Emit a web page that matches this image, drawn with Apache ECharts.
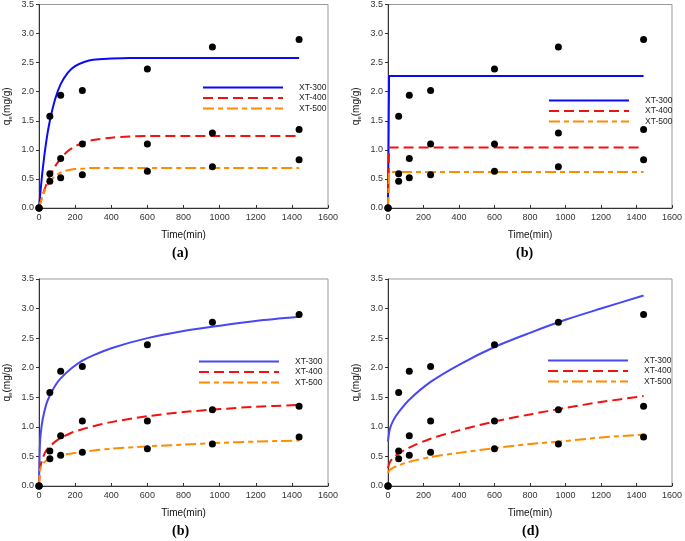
<!DOCTYPE html>
<html>
<head>
<meta charset="utf-8">
<script src="https://cdn.jsdelivr.net/npm/echarts@6/dist/echarts.min.js"></script>
<style>
  html, body { margin: 0; padding: 0; background: #fff; }
  #chart { width: 685px; height: 541px; }
</style>
</head>
<body>
<div id="chart"></div>
<script>
// measured points (same in every panel)
const timePts = [0, 60, 120, 240, 600, 960, 1440];
const q300 = [0, 1.58, 1.94, 2.02, 2.39, 2.77, 2.90];
const q400 = [0, 0.59, 0.85, 1.10, 1.10, 1.29, 1.35];
const q500 = [0, 0.46, 0.52, 0.57, 0.63, 0.71, 0.83];

const names = ["XT-300", "XT-400", "XT-500"];
// bottom row uses a lighter blue, so its legend needs its own series names
const namesLow = ["XT-300 ", "XT-400 ", "XT-500 "];

// fitted curves
const tA = [0, 20, 40, 60, 90, 120, 160, 200, 250, 300, 400, 500, 600, 800, 1000, 1200, 1440];
const aFit300 = [0, 0.65, 1.14, 1.50, 1.88, 2.13, 2.33, 2.44, 2.51, 2.55, 2.57, 2.58, 2.58, 2.58, 2.58, 2.58, 2.58];
const aFit400 = [0, 0.22, 0.40, 0.55, 0.72, 0.85, 0.98, 1.06, 1.13, 1.17, 1.21, 1.23, 1.24, 1.24, 1.24, 1.24, 1.24];
const aFit500 = [0, 0.21, 0.35, 0.46, 0.55, 0.61, 0.65, 0.67, 0.68, 0.69, 0.69, 0.69, 0.69, 0.69, 0.69, 0.69, 0.69];

const tB = [0, 6, 1440];
const bFit300 = [0, 2.27, 2.27];
const bFit400 = [0, 1.04, 1.04];
const bFit500 = [0, 0.62, 0.62];

const tC = [0, 5, 10, 20, 40, 60, 90, 120, 180, 240, 300, 400, 600, 800, 1000, 1200, 1440];
const cFit300 = [0, 0.70, 0.90, 1.12, 1.38, 1.53, 1.70, 1.82, 1.99, 2.12, 2.21, 2.33, 2.50, 2.62, 2.71, 2.79, 2.86];
const cFit400 = [0, 0.28, 0.36, 0.47, 0.60, 0.67, 0.75, 0.81, 0.90, 0.96, 1.01, 1.08, 1.18, 1.25, 1.30, 1.34, 1.37];
const cFit500 = [0, 0.25, 0.31, 0.37, 0.43, 0.46, 0.49, 0.52, 0.55, 0.58, 0.60, 0.63, 0.67, 0.70, 0.73, 0.75, 0.77];

const tD = [0, 10, 30, 60, 120, 240, 400, 600, 800, 1000, 1200, 1440];
const dFit300 = [0.75, 0.96, 1.11, 1.25, 1.46, 1.76, 2.05, 2.35, 2.59, 2.81, 3.00, 3.22];
const dFit400 = [0.30, 0.40, 0.48, 0.55, 0.65, 0.80, 0.94, 1.09, 1.21, 1.32, 1.42, 1.52];
const dFit500 = [0.22, 0.27, 0.31, 0.35, 0.41, 0.49, 0.56, 0.64, 0.71, 0.76, 0.82, 0.87];

const panelLabels = ["(a)", "(b)", "(b)", "(d)"];

const font = "Liberation Sans, Arial, sans-serif";

const panels = [
  {grid: {left: 39, top: 4, width: 289, height: 204}, t: tA, fits: [aFit300, aFit400, aFit500], smooth: 0.3, blue: "#0a0af5", names: names, legend: {left: 197, top: 78}, label: {x: 182, y: 254}},
  {grid: {left: 388, top: 4, width: 288, height: 204}, t: tB, fits: [bFit300, bFit400, bFit500], smooth: false, blue: "#0a0af5", names: names, legend: {left: 543, top: 91}, label: {x: 526, y: 254}},
  {grid: {left: 39, top: 279, width: 289, height: 207}, t: tC, fits: [cFit300, cFit400, cFit500], smooth: 0.3, blue: "#4848f2", names: namesLow, legend: {left: 193, top: 352}, label: {x: 182, y: 532}},
  {grid: {left: 388, top: 279, width: 288, height: 207}, t: tD, fits: [dFit300, dFit400, dFit500], smooth: 0.3, blue: "#4848f2", names: namesLow, legend: {left: 542, top: 351}, label: {x: 532, y: 532}}
];

const pair = (xs, ys) => xs.map((x, i) => [x, ys[i]]);

const grids = [], xAxes = [], yAxes = [], series = [], legends = [], graphics = [];

panels.forEach((p, gi) => {
  grids.push(Object.assign({show: true, borderColor: "#999", borderWidth: 1}, p.grid));
  xAxes.push({
    type: "value", gridIndex: gi, min: 0, max: 1600, interval: 200,
    name: "Time(min)", nameLocation: "middle", nameGap: 22,
    nameTextStyle: {fontFamily: font, fontSize: 10, color: "#111"},
    axisLine: {lineStyle: {color: "#333"}},
    axisTick: {inside: true, length: 3, lineStyle: {color: "#333"}},
    axisLabel: {fontFamily: font, fontSize: 9, color: "#333", margin: 5, formatter: v => String(v)},
    splitLine: {show: false}
  });
  yAxes.push({
    type: "value", gridIndex: gi, min: 0, max: 3.5, interval: 0.5,
    name: "q{s|e}(mg/g)", nameLocation: "middle", nameGap: 26,
    nameTextStyle: {fontFamily: font, fontSize: 10, color: "#111", rich: {s: {fontSize: 6, verticalAlign: "bottom", padding: [6, 0, 0, 0]}}},
    axisLine: {show: true, lineStyle: {color: "#333"}},
    axisTick: {length: 3, lineStyle: {color: "#333"}},
    axisLabel: {fontFamily: font, fontSize: 9, color: "#333", margin: 5, formatter: v => v.toFixed(1)},
    splitLine: {show: false}
  });
  const colors = [p.blue, "#f51010", "#ff8c00"];
  const dashes = ["solid", [10, 5], [11, 4, 5, 4]];
  p.fits.forEach((fit, k) => {
    series.push({
      type: "line", name: p.names[k], xAxisIndex: gi, yAxisIndex: gi,
      data: pair(p.t, fit), smooth: p.smooth, symbol: "none",
      color: colors[k],
      lineStyle: {color: colors[k], width: 2, type: dashes[k]},
      z: 2
    });
  });
  [q300, q400, q500].forEach(q => {
    series.push({
      type: "scatter", xAxisIndex: gi, yAxisIndex: gi,
      data: pair(timePts, q), symbolSize: 7,
      itemStyle: {color: "#000", opacity: 1}, z: 3
    });
  });
  legends.push({
    data: p.names, orient: "vertical", left: p.legend.left, top: p.legend.top,
    itemWidth: 80, itemHeight: 8, itemGap: 1.5,
    itemStyle: {opacity: 0},
    textStyle: {fontFamily: font, fontSize: 8.5, color: "#222", padding: [0, 0, 0, 11]},
    selectedMode: false
  });
  graphics.push({
    type: "text", left: p.label.x - 10, top: p.label.y - 8,
    style: {text: panelLabels[gi], font: "bold 14px 'Liberation Serif', 'Times New Roman', serif", fill: "#000"}
  });
});

const chart = echarts.init(document.getElementById("chart"), null, {renderer: "canvas"});
chart.setOption({
  animation: false,
  backgroundColor: "#fff",
  grid: grids,
  xAxis: xAxes,
  yAxis: yAxes,
  legend: legends,
  series: series,
  graphic: graphics
});
</script>
</body>
</html>
